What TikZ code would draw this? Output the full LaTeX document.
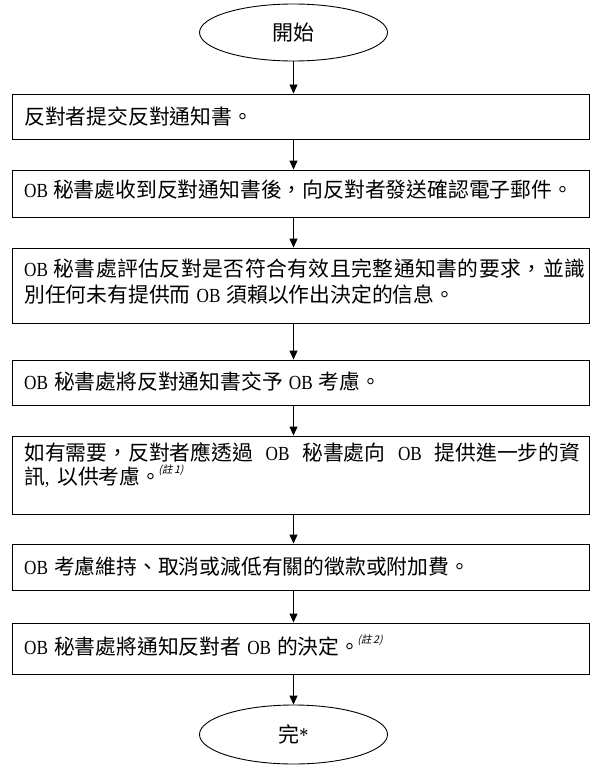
\documentclass[tikz,border=0pt]{standalone}
\usepackage{fontspec}
\setmainfont{Liberation Serif}
\newfontfamily\cjkf{Noto Sans CJK TC}
\newfontfamily\latinf[FakeStretch=0.86]{Liberation Serif}
\newfontfamily\notef[FakeSlant=0.25]{Noto Sans CJK TC}
\usetikzlibrary{arrows.meta,shapes.geometric}
\newcommand\OBw{{\latinf\fontsize{20}{22}\selectfont OB}}
\newcommand\gap{\hspace{6pt plus 30pt}}
\newcommand\notemark[1]{\hspace{-3pt}\raisebox{11pt}{\notef\fontsize{10.5}{11}\selectfont(註\,#1)}}
\ExplSyntaxOn
\NewDocumentCommand\spreadout{m}{\tl_map_inline:nn {#1} {##1\hskip 0pt plus 1pt}\unskip}
\ExplSyntaxOff
\begin{document}
\begin{tikzpicture}[x=1pt,y=-1pt,
  box/.style={draw, line width=0.9pt, minimum width=577pt, inner sep=0pt},
  term/.style={draw, ellipse, line width=0.9pt, minimum width=188pt, inner sep=0pt, font=\cjkf\fontsize{21}{24}\selectfont},
  txt/.style={anchor=base west, inner sep=0pt, font=\cjkf\fontsize{20.8}{24}\selectfont},
  flow/.style={-{Triangle[length=9pt,width=8pt]}, line width=0.9pt}]
\useasboundingbox (0,0) rectangle (599,773);
\fill[white] (0,0) rectangle (599,773);

\node[term, minimum height=57pt] (start) at (293.5,32.5) {開始};
\node[box, minimum height=45pt] (b1) at (300.5,116.5) {};
\node[box, minimum height=47pt] (b2) at (300.5,193.5) {};
\node[box, minimum height=75pt] (b3) at (300.5,285.5) {};
\node[box, minimum height=45pt] (b4) at (300.5,382.5) {};
\node[box, minimum height=78pt] (b5) at (300.5,475) {};
\node[box, minimum height=46pt] (b6) at (300.5,567) {};
\node[box, minimum height=51pt] (b7) at (300.5,648.5) {};
\node[term, minimum height=59pt] (finish) at (293.5,734.5) {完{\latinf *}};

\node[txt] (t1) at (24,124.3) {反對者提交反對通知書。};
\node[txt] (t2) at (24,197.5) {\OBw\hspace{5pt}秘書處收到反對通知書後，向反對者發送確認電子郵件。};
\node[txt] (t3a) at (24,276.5) {\makebox[561pt][s]{\OBw\hspace{5pt plus 1pt}\spreadout{秘書處評估反對是否符合有效且完整通知書的要求，並識}}};
\node[txt] (t3b) at (24,302) {別任何未有提供而\gap\OBw\gap 須賴以作出決定的信息。};
\node[txt] (t4) at (24,389) {\OBw\gap 秘書處將反對通知書交予\gap\OBw\gap 考慮。};
\node[txt] (t5a) at (24,460) {\makebox[556pt][s]{如有需要，反對者應透過\gap\OBw\gap 秘書處向\gap\OBw\gap 提供進一步的資}};
\node[txt] (t5b) at (24,484) {訊{\latinf\fontsize{20}{22}\selectfont,}\hspace{8pt}以供考慮。\notemark{1}};
\node[txt] (t6) at (24,574.5) {\OBw\gap 考慮維持、取消或減低有關的徵款或附加費。};
\node[txt] (t7) at (24,654.5) {\OBw\gap 秘書處將通知反對者\gap\OBw\gap 的決定。\notemark{2}};

\draw[flow] (start.south) -- (start.south |- b1.north);
\draw[flow] (b1.south -| start) -- (b2.north -| start);
\draw[flow] (b2.south -| start) -- (b3.north -| start);
\draw[flow] (b3.south -| start) -- (b4.north -| start);
\draw[flow] (b4.south -| start) -- (b5.north -| start);
\draw[flow] (b5.south -| start) -- (b6.north -| start);
\draw[flow] (b6.south -| start) -- (b7.north -| start);
\draw[flow] (b7.south -| finish) -- (finish.north);
\end{tikzpicture}
\end{document}
